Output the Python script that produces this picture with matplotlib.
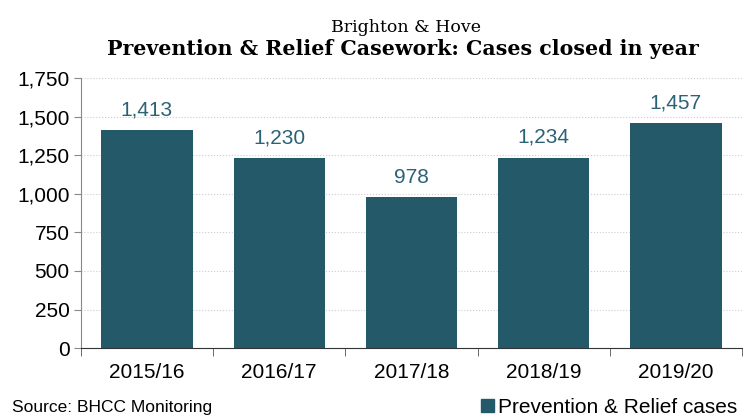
import matplotlib
matplotlib.use('Agg')
import matplotlib.pyplot as plt
from matplotlib.patches import Patch

years = ['2015/16', '2016/17', '2017/18', '2018/19', '2019/20']
cases = [1413, 1230, 978, 1234, 1457]
yticks = [0, 250, 500, 750, 1000, 1250, 1500, 1750]

bar_color = '#24596a'
label_color = '#2b6275'

plt.rcParams['font.family'] = ['Liberation Sans', 'DejaVu Sans']

fig = plt.figure(figsize=(7.48, 4.17), dpi=100)
ax = fig.add_axes([0.108, 0.165, 0.884, 0.648])

x = list(range(len(years)))
bars = ax.bar(x, cases, width=0.69, color=bar_color, zorder=2)
for xi, v in zip(x, cases):
    ax.text(xi, v + 95, f'{v:,}', ha='center', va='baseline', fontsize=15, color=label_color)

ax.set_xlim(-0.5, len(years) - 0.5)
ax.set_ylim(0, 1750)
ax.set_yticks(yticks)
ax.set_yticklabels([f'{t:,}' for t in yticks], fontsize=15)
ax.yaxis.grid(True, linestyle=':', color='#cccccc', linewidth=0.8, zorder=0)

# category labels centred, ticks between categories
ax.set_xticks(x)
ax.set_xticklabels(years, fontsize=15)
ax.tick_params(axis='x', length=0, pad=11)
ax.set_xticks([i - 0.5 for i in range(len(years) + 1)], minor=True)
ax.tick_params(axis='x', which='minor', length=6, color='#555555')
ax.tick_params(axis='y', length=5, color='#888888', pad=3)

for s in ['top', 'right']:
    ax.spines[s].set_visible(False)
ax.spines['left'].set_color('#888888')
ax.spines['bottom'].set_color('#333333')

fig.text(0.543, 0.923, 'Brighton & Hove', ha='center', va='baseline',
         fontsize=12.5, family='DejaVu Serif')
fig.text(0.539, 0.868, 'Prevention & Relief Casework: Cases closed in year', ha='center',
         va='baseline', fontsize=14.8, fontweight='bold', family='DejaVu Serif')

fig.text(0.016, 0.013, 'Source: BHCC Monitoring', fontsize=12.5, va='baseline')
fig.legend(handles=[Patch(color=bar_color)], labels=['Prevention & Relief cases'],
           loc='lower right', bbox_to_anchor=(737 / 748, 0.0), frameon=False,
           fontsize=15, handlelength=0.6, handleheight=0.6, handletextpad=0.2,
           borderpad=0, borderaxespad=0)

fig.savefig('out.png', dpi=100)
